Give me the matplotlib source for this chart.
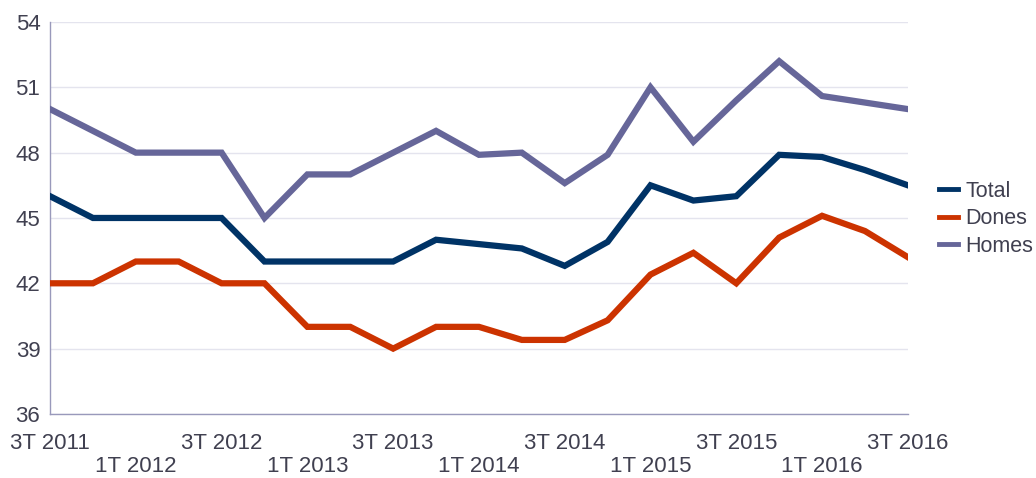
import matplotlib.pyplot as plt

plt.rcParams['font.family'] = ['Liberation Sans', 'DejaVu Sans']

# quarters 3T 2011 .. 3T 2016
quarters = ['3T 2011', '4T 2011', '1T 2012', '2T 2012', '3T 2012', '4T 2012',
            '1T 2013', '2T 2013', '3T 2013', '4T 2013', '1T 2014', '2T 2014',
            '3T 2014', '4T 2014', '1T 2015', '2T 2015', '3T 2015', '4T 2015',
            '1T 2016', '2T 2016', '3T 2016']

total = [46, 45, 45, 45, 45, 43, 43, 43, 43, 44, 43.8, 43.6, 42.8, 43.9,
         46.5, 45.8, 46.0, 47.9, 47.8, 47.2, 46.5]
dones = [42, 42, 43, 43, 42, 42, 40, 40, 39, 40, 40, 39.4, 39.4, 40.3,
         42.4, 43.4, 42.0, 44.1, 45.1, 44.4, 43.2]
homes = [50, 49, 48, 48, 48, 45, 47, 47, 48, 49, 47.9, 48.0, 46.6, 47.9,
         51.0, 48.5, 50.4, 52.2, 50.6, 50.3, 50.0]

yticks = [36, 39, 42, 45, 48, 51, 54]

text_color = '#404050'

fig = plt.figure(figsize=(10.36, 4.78), dpi=100)
ax = fig.add_axes([0.0483, 0.134, 0.828, 0.820])

x = list(range(len(quarters)))
ax.plot(x, total, color='#003366', lw=4.5, label='Total', solid_joinstyle='miter', zorder=3)
ax.plot(x, dones, color='#CC3300', lw=4.5, label='Dones', solid_joinstyle='miter', zorder=3)
ax.plot(x, homes, color='#666699', lw=4.5, label='Homes', solid_joinstyle='miter', zorder=3)

ax.set_xlim(0, len(quarters) - 1)
ax.set_ylim(36, 54)
ax.set_yticks(yticks)
ax.set_yticklabels([str(v) for v in yticks])
ax.grid(axis='y', color='#E4E4EE', lw=1)
ax.set_axisbelow(True)

# alternating x labels: every second quarter, staggered in two rows
upper = x[0::4]
lower = x[2::4]
ax.set_xticks(upper)
ax.set_xticklabels([quarters[i] for i in upper])
ax.set_xticks(lower, minor=True)
ax.set_xticklabels([quarters[i] for i in lower], minor=True)
ax.tick_params(axis='x', which='major', length=0, pad=14, labelsize=16, colors=text_color)
ax.tick_params(axis='x', which='minor', length=0, pad=30, labelsize=16, colors=text_color)
ax.tick_params(axis='y', length=0, pad=7, labelsize=16, colors=text_color)

for side in ['top', 'right']:
    ax.spines[side].set_visible(False)
for side in ['left', 'bottom']:
    ax.spines[side].set_color('#9999BB')
    ax.spines[side].set_linewidth(1)

leg = fig.legend(loc='center left', bbox_to_anchor=(0.906, 0.542), frameon=False,
                 fontsize=15.5, handlelength=0.9, handletextpad=0.35,
                 labelspacing=0.3, borderaxespad=0, borderpad=0)
for t in leg.get_texts():
    t.set_color(text_color)
for h in leg.get_lines():
    h.set_linewidth(3.5)

fig.savefig('out.png', dpi=100)
